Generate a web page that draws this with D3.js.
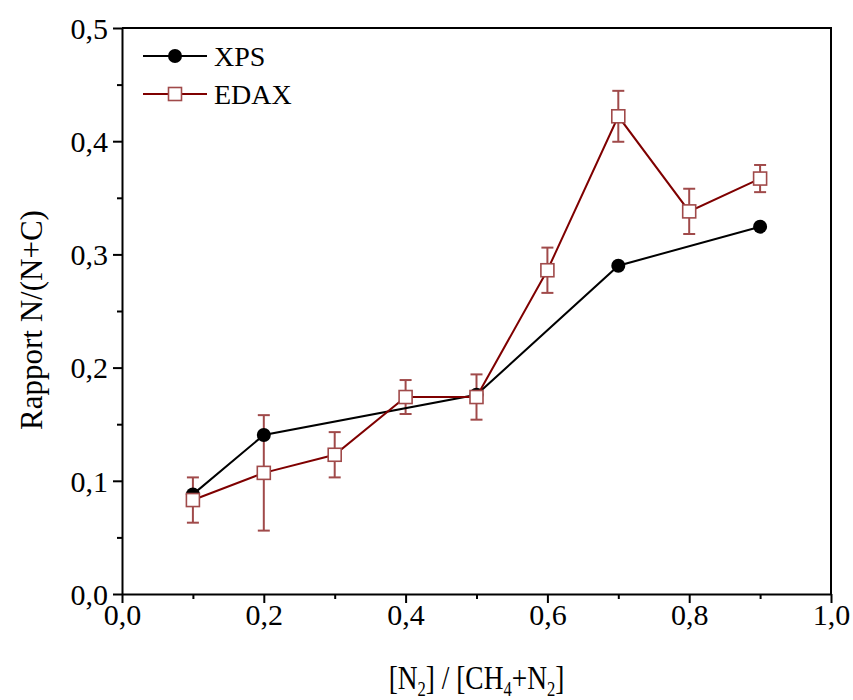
<!DOCTYPE html>
<html><head><meta charset="utf-8">
<script src="https://cdn.jsdelivr.net/npm/d3@7"></script>
<style>body{margin:0;background:#fff}svg{display:block}text{font-family:"Liberation Serif","Times New Roman",serif}</style>
</head><body><svg id="c" width="853" height="700"></svg>
<script>
const xpsX = [0.1, 0.2, 0.5, 0.7, 0.9];
const xpsY = [0.088, 0.1405, 0.176, 0.290, 0.3245];
const edaxX = [0.1, 0.2, 0.3, 0.4, 0.5, 0.6, 0.7, 0.8, 0.9];
const edaxY = [0.083, 0.107, 0.123, 0.174, 0.174, 0.286, 0.422, 0.338, 0.367];
const edaxErr = [0.020, 0.051, 0.020, 0.015, 0.020, 0.020, 0.0225, 0.020, 0.012];
const xTicks = [0, 0.2, 0.4, 0.6, 0.8, 1.0];
const yTicks = [0, 0.1, 0.2, 0.3, 0.4, 0.5];
const seriesNames = ["XPS", "EDAX"];

const svg = d3.select("#c");
const L = 122, R = 831, T = 28, B = 594;
const x = d3.scaleLinear().domain([0, 1]).range([L, R]);
const y = d3.scaleLinear().domain([0, 0.5]).range([B, T]);
const fmt = d => d3.format(".1f")(d).replace(".", ",");
const FF = "Liberation Serif";

// frame top/right
svg.append("path").attr("d", `M${L},${T}H${R}V${B}`).attr("fill", "none").attr("stroke", "#000").attr("stroke-width", 2);

// x axis
const xa = svg.append("g").attr("transform", `translate(0,${B})`)
  .call(d3.axisBottom(x).tickValues(xTicks).tickFormat(fmt).tickSize(9).tickSizeOuter(0));
svg.append("g").attr("transform", `translate(0,${B})`)
  .call(d3.axisBottom(x).tickValues([0.1,0.3,0.5,0.7,0.9]).tickFormat("").tickSize(5).tickSizeOuter(0))
  .select(".domain").remove();
// y axis
const ya = svg.append("g").attr("transform", `translate(${L},0)`)
  .call(d3.axisLeft(y).tickValues(yTicks).tickFormat(fmt).tickSize(9).tickSizeOuter(0));
svg.append("g").attr("transform", `translate(${L},0)`)
  .call(d3.axisLeft(y).tickValues([0.05,0.15,0.25,0.35,0.45]).tickFormat("").tickSize(5).tickSizeOuter(0))
  .select(".domain").remove();
svg.selectAll(".domain,.tick line").attr("stroke", "#000").attr("stroke-width", 2);
xa.selectAll("text").attr("font-size", 30).attr("font-family", FF).attr("fill", "#000").attr("dy", null).attr("y", 31);
ya.selectAll("text").attr("font-size", 30).attr("font-family", FF).attr("fill", "#000").attr("x", -14).attr("dy", "0.34em");

// axis titles
const xt = svg.append("g").attr("transform", `translate(${(L + R) / 2},689) scale(0.83,1)`)
  .append("text").attr("x", 0).attr("y", 0).attr("text-anchor", "middle")
  .attr("font-size", 33).attr("font-family", FF);
xt.append("tspan").text("[N");
xt.append("tspan").text("2").attr("font-size", 20).attr("dy", 7);
xt.append("tspan").text("] / [CH").attr("dy", -7);
xt.append("tspan").text("4").attr("font-size", 20).attr("dy", 7);
xt.append("tspan").text("+N").attr("dy", -7);
xt.append("tspan").text("2").attr("font-size", 20).attr("dy", 7);
xt.append("tspan").text("]").attr("dy", -7);
svg.append("text").attr("transform", `translate(42,${320}) rotate(-90)`)
  .attr("text-anchor", "middle").attr("font-size", 31).attr("font-family", FF).text("Rapport N/(N+C)");

const lineGen = d3.line().x(d => x(d[0])).y(d => y(d[1]));
const xps = xpsX.map((v, i) => [v, xpsY[i]]);
const edax = edaxX.map((v, i) => [v, edaxY[i], edaxErr[i]]);

const dark = "#7f0000", muted = "#a04a4a";
// EDAX error bars
const eb = svg.append("g").attr("stroke", muted).attr("stroke-width", 2);
edax.forEach(d => {
  eb.append("line").attr("x1", x(d[0])).attr("x2", x(d[0])).attr("y1", y(d[1] - d[2])).attr("y2", y(d[1] + d[2]));
  [d[1] - d[2], d[1] + d[2]].forEach(v => eb.append("line").attr("x1", x(d[0]) - 6).attr("x2", x(d[0]) + 6).attr("y1", y(v)).attr("y2", y(v)));
});

// XPS line & dots
svg.append("path").datum(xps).attr("d", lineGen).attr("fill", "none").attr("stroke", "#000").attr("stroke-width", 2);
svg.append("g").selectAll("circle").data(xps).join("circle")
  .attr("cx", d => x(d[0])).attr("cy", d => y(d[1])).attr("r", 7).attr("fill", "#000");

// EDAX line & squares
svg.append("path").datum(edax).attr("d", lineGen).attr("fill", "none").attr("stroke", dark).attr("stroke-width", 2);
svg.append("g").selectAll("rect").data(edax).join("rect")
  .attr("x", d => x(d[0]) - 6.5).attr("y", d => y(d[1]) - 6.5).attr("width", 13).attr("height", 13)
  .attr("fill", "#fff").attr("stroke", muted).attr("stroke-width", 1.6);

// legend
const lg = svg.append("g");
lg.append("line").attr("x1", 143).attr("x2", 207).attr("y1", 56).attr("y2", 56).attr("stroke", "#000").attr("stroke-width", 2);
lg.append("circle").attr("cx", 175).attr("cy", 56).attr("r", 7).attr("fill", "#000");
lg.append("text").attr("x", 214).attr("y", 56).attr("dy", "0.34em").attr("font-size", 28).attr("font-family", FF).text(seriesNames[0]);
lg.append("line").attr("x1", 143).attr("x2", 207).attr("y1", 94).attr("y2", 94).attr("stroke", dark).attr("stroke-width", 2);
lg.append("rect").attr("x", 168.5).attr("y", 87.5).attr("width", 13).attr("height", 13).attr("fill", "#fff").attr("stroke", muted).attr("stroke-width", 1.6);
lg.append("text").attr("x", 214).attr("y", 94).attr("dy", "0.34em").attr("font-size", 28).attr("font-family", FF).text(seriesNames[1]);
</script></body></html>
